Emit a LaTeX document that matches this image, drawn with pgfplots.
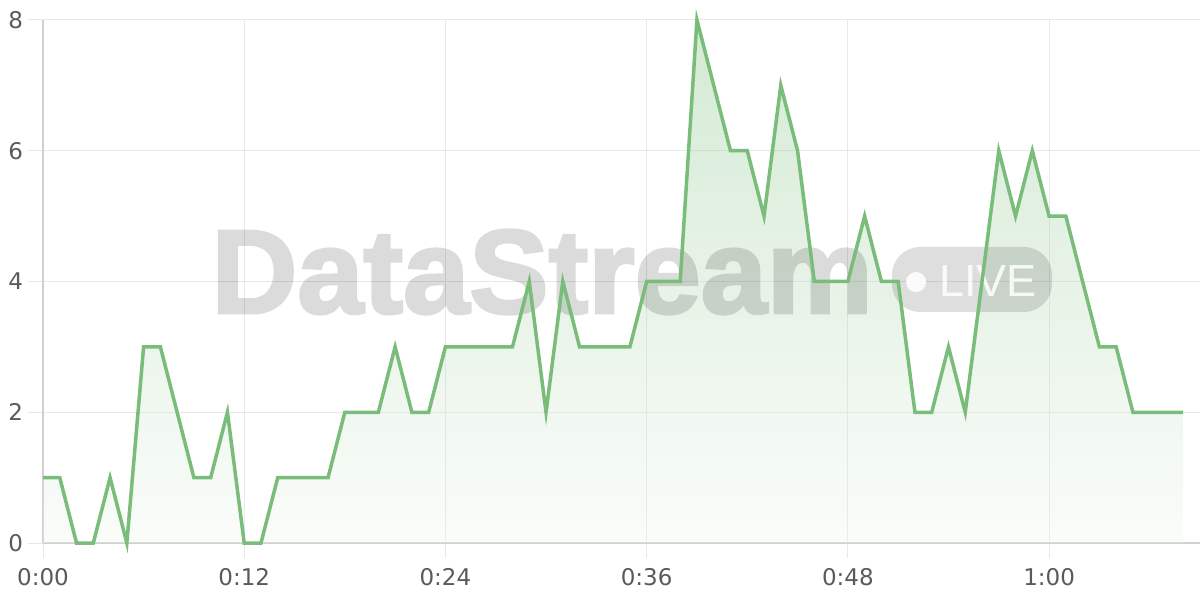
\documentclass[border=0pt]{standalone}
\usepackage{fontspec}
\setmainfont{DejaVu Sans}
\newfontfamily\wmfont[FakeBold=2.5]{Liberation Sans}
\newfontfamily\livefont{Liberation Sans}
\usepackage{pgfplots}
\usepackage{pgfplotstable}
\pgfplotsset{compat=1.18}

\definecolor{linegreen}{RGB}{122,188,122}
\definecolor{gridgray}{RGB}{232,232,232}
\definecolor{axisgray}{RGB}{208,208,208}
\definecolor{labelgray}{RGB}{90,90,90}

% minutes since start, count
\pgfplotstableread{
t v
0 1
1 1
2 0
3 0
4 1
5 0
6 3
7 3
8 2
9 1
10 1
11 2
12 0
13 0
14 1
15 1
16 1
17 1
18 2
19 2
20 2
21 3
22 2
23 2
24 3
25 3
26 3
27 3
28 3
29 4
30 2
31 4
32 3
33 3
34 3
35 3
36 4
37 4
38 4
39 8
40 7
41 6
42 6
43 5
44 7
45 6
46 4
47 4
48 4
49 5
50 4
51 4
52 2
53 2
54 3
55 2
56 4
57 6
58 5
59 6
60 5
61 5
62 4
63 3
64 3
65 2
66 2
67 2
68 2
}\visitors

\begin{document}
\begin{tikzpicture}
\begin{axis}[
    scale only axis,
    width=578.5pt, height=261.5pt,
    xmin=0, xmax=69,
    ymin=0, ymax=8,
    xtick={0,12,24,36,48,60},
    xticklabels={0:00,0:12,0:24,0:36,0:48,1:00},
    ytick={0,2,4,6,8},
    axis lines*=left,
    axis line style={axisgray, line width=0.75pt},
    grid=major,
    major grid style={gridgray, line width=0.5pt},
    tick align=outside,
    major tick length=7.5pt,
    tick style={gridgray, line width=0.5pt},
    ticklabel style={font=\fontsize{11.5}{13}\selectfont, text=labelgray},
    xticklabel style={yshift=-1.5pt},
    yticklabel style={xshift=1pt},
    /pgf/number format/assume math mode=true,
    clip=false,
  ]
  \addplot[draw=none, top color=linegreen, bottom color=linegreen!12!white,
    fill opacity=0.32] table[x=t, y=v] {\visitors} \closedcycle;

  % watermark
  \begin{scope}[transparency group, opacity=0.14]
    \node[anchor=base west, inner sep=0pt, text=black,
      font=\wmfont\bfseries\fontsize{59.5}{60}\selectfont]
      at (rel axis cs:0.1452,0.4398) {DataStream};
  \end{scope}
  \fill[black, fill opacity=0.13, rounded corners=14pt]
    (rel axis cs:0.7338,0.4417) rectangle (rel axis cs:0.8721,0.5660);
  \fill[white, fill opacity=0.9] (rel axis cs:0.7546,0.4990) circle (5pt);
  \node[anchor=base west, inner sep=0pt, text=white, text opacity=0.85,
    font=\livefont\fontsize{22.5}{24}\selectfont]
    at (rel axis cs:0.7744,0.4704) {LIVE};

  \addplot[linegreen, line width=1.75pt] table[x=t, y=v] {\visitors};
\end{axis}
\pgfresetboundingbox
\path[use as bounding box] (-21.5pt,-28.5pt) rectangle (578.5pt,271.5pt);
\end{tikzpicture}
\end{document}
